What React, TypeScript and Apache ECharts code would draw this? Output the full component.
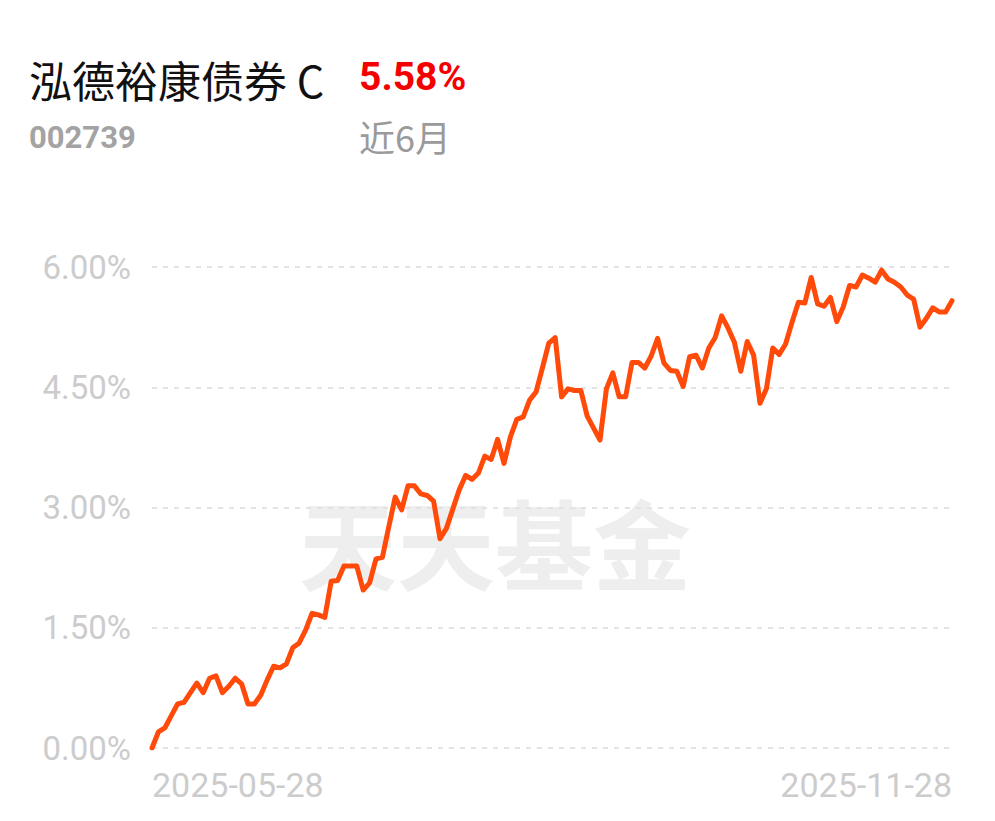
import React, { useEffect, useRef } from "react";
import * as echarts from "echarts";

const fundName = "泓德裕康债券 C";
const fundCode = "002739";
const returnText = "5.58%";
const periodText = "近6月";
const watermark = "天天基金";
const xEndLabels = ["2025-05-28", "2025-11-28"];
const yTicks = [0, 1.5, 3, 4.5, 6];

// cumulative return (%) per trading day
const returns = [
  0.0, 0.2, 0.25, 0.4, 0.55, 0.57, 0.69, 0.81, 0.69, 0.87,
  0.9, 0.69, 0.77, 0.87, 0.8, 0.55, 0.55, 0.66, 0.85, 1.02,
  1.0, 1.05, 1.25, 1.31, 1.47, 1.68, 1.66, 1.63, 2.08, 2.09,
  2.27, 2.27, 2.27, 1.97, 2.06, 2.36, 2.38, 2.76, 3.13, 2.97,
  3.27, 3.27, 3.17, 3.15, 3.08, 2.61, 2.74, 2.98, 3.22, 3.4,
  3.35, 3.43, 3.64, 3.6, 3.85, 3.55, 3.88, 4.1, 4.13, 4.34,
  4.44, 4.74, 5.05, 5.12, 4.38, 4.48, 4.46, 4.46, 4.14, 3.99,
  3.84, 4.48, 4.68, 4.38, 4.38, 4.81, 4.81, 4.74, 4.89, 5.11,
  4.8, 4.71, 4.7, 4.51, 4.88, 4.9, 4.74, 4.99, 5.12, 5.39,
  5.24, 5.06, 4.7, 5.07, 4.9, 4.3, 4.48, 4.99, 4.91, 5.04,
  5.31, 5.56, 5.55, 5.87, 5.54, 5.51, 5.62, 5.32, 5.5, 5.77,
  5.75, 5.9, 5.86, 5.81, 5.96, 5.85, 5.81, 5.75, 5.65, 5.6,
  5.25, 5.36, 5.49, 5.44, 5.44, 5.58,
];

const lastIndex = returns.length - 1;
const categories = returns.map((_, i) =>
  i === 0 ? xEndLabels[0] : i === lastIndex ? xEndLabels[1] : String(i)
);

const CJK = '"Noto Sans CJK SC", "Noto Sans", sans-serif';
const NUM = 'Roboto, "Noto Sans", sans-serif';

export default function App() {
  const ref = useRef<HTMLDivElement>(null);
  useEffect(() => {
    if (!ref.current) return;
    const chart = echarts.init(ref.current, undefined, { renderer: "svg" });
    chart.setOption({
      animation: false,
      backgroundColor: "#ffffff",
      grid: { left: 152, right: 43, top: 267, bottom: 73, containLabel: false },
      xAxis: {
        type: "category",
        data: categories,
        boundaryGap: false,
        axisLine: { show: false },
        axisTick: { show: false },
        splitLine: { show: false },
        axisLabel: {
          interval: (i: number) => i === 0 || i === lastIndex,
          alignMinLabel: "left",
          alignMaxLabel: "right",
          color: "#cccccc",
          fontFamily: NUM,
          fontSize: 34,
          margin: 20,
        },
      },
      yAxis: {
        type: "value",
        min: yTicks[0],
        max: yTicks[yTicks.length - 1],
        interval: yTicks[1] - yTicks[0],
        axisLine: { show: false },
        axisTick: { show: false },
        axisLabel: {
          formatter: (v: number) => v.toFixed(2) + "%",
          color: "#cccccc",
          fontFamily: NUM,
          fontSize: 33,
          margin: 21,
        },
        splitLine: {
          show: true,
          lineStyle: { color: "#e3e3e3", width: 2, type: [5, 6] },
        },
      },
      graphic: [
        {
          type: "text",
          left: 299,
          top: 491,
          z: 0,
          silent: true,
          style: {
            text: watermark,
            fontFamily: CJK,
            fontSize: 98,
            fontWeight: "bold",
            fill: "#eeeeee",
          },
        },
        {
          type: "text",
          x: 29,
          y: 79,
          style: {
            text: fundName,
            fontFamily: CJK,
            fontSize: 43,
            fill: "#111111",
            verticalAlign: "middle",
          },
        },
        {
          type: "text",
          x: 359,
          y: 77,
          style: {
            text: returnText,
            fontFamily: NUM,
            fontSize: 39,
            fontWeight: "bold",
            fill: "#f40000",
            verticalAlign: "middle",
          },
        },
        {
          type: "text",
          x: 29,
          y: 137,
          style: {
            text: fundCode,
            fontFamily: NUM,
            fontSize: 31,
            fontWeight: "bold",
            fill: "#a3a3a3",
            verticalAlign: "middle",
          },
        },
        {
          type: "text",
          x: 359,
          y: 136,
          style: {
            text: periodText,
            fontFamily: CJK,
            fontSize: 36,
            fill: "#9a9a9a",
            verticalAlign: "middle",
          },
        },
      ],
      series: [
        {
          type: "line",
          data: returns,
          showSymbol: false,
          symbol: "none",
          smooth: false,
          z: 3,
          lineStyle: { color: "#ff4a0a", width: 5, join: "round", cap: "round" },
        },
      ],
    });
    return () => chart.dispose();
  }, []);
  return (
    <div
      ref={ref}
      style={{ position: "absolute", left: 0, top: 0, width: 995, height: 821 }}
    />
  );
}
